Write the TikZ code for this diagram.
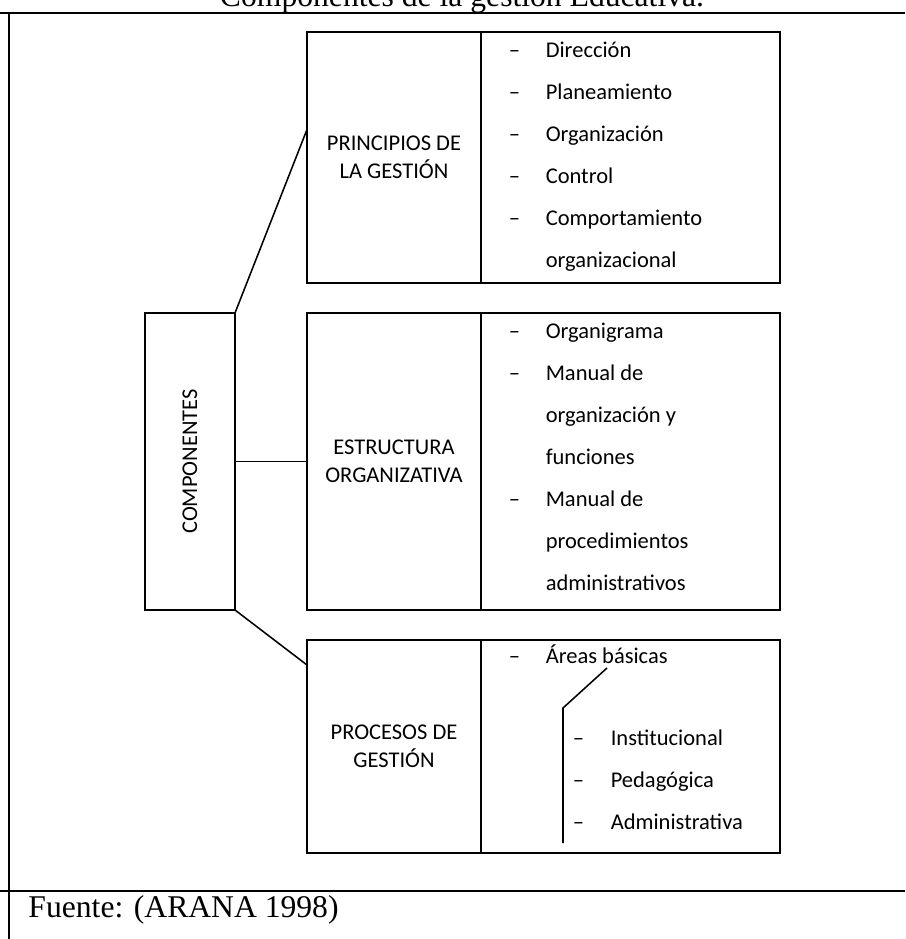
\documentclass[tikz,border=0pt]{standalone}
\usepackage{fontspec}
\setmainfont{Liberation Serif}
\newfontfamily\calibri{Carlito}
\usetikzlibrary{positioning, calc}

\newcommand\itm{\makebox[0.925cm][l]{–}}
\newcommand\cont{\hspace*{0.925cm}}
\newcommand\subitm{\makebox[0.95cm][l]{–}}

\begin{document}
\begin{tikzpicture}[
  line width=1.1pt,
  cell/.style={draw, minimum width=4.35cm, inner sep=0pt, outer sep=0pt,
               font=\calibri\fontsize{16}{20}\selectfont, align=center},
  listcell/.style={draw, minimum width=7.475cm, inner sep=0pt, outer sep=0pt},
  items/.style={anchor=north west, inner sep=0pt, align=left,
                font=\calibri\fontsize{16}{29.85}\selectfont},
  frame/.style={line width=0.9pt},
]
  \useasboundingbox (0,0) rectangle (22.625,-23.475);

  % caption, cut at the top edge
  \node[anchor=base, font=\fontsize{22.5}{26}\selectfont] (title) at (11.55,-0.175)
    {Componentes de la gestión Educativa.};

  \node[cell, minimum height=6.275cm] (princ) at (9.85,-3.9375) {PRINCIPIOS DE\\LA GESTIÓN};
  \node[listcell, minimum height=6.275cm, right=0pt of princ] (princlist) {};
  \node[cell, minimum height=7.425cm, below=0.75cm of princ] (estr) {ESTRUCTURA\\ORGANIZATIVA};
  \node[listcell, minimum height=7.425cm, right=0pt of estr] (estrlist) {};
  \node[cell, minimum height=5.325cm, below=0.75cm of estr] (proc) {PROCESOS DE\\GESTIÓN};
  \node[listcell, minimum height=5.325cm, right=0pt of proc] (proclist) {};

  \node[cell, minimum width=2.25cm, minimum height=7.425cm, left=1.8cm of estr] (comp)
    {\rotatebox{90}{COMPONENTES}};

  \node[items] (princitems) at ([xshift=0.675cm, yshift=0.11cm]princlist.north west)
    {\strut\itm Dirección\\ \itm Planeamiento\\ \itm Organización\\ \itm Control\\
     \itm Comportamiento\\ \cont organizacional};
  \node[items] (estritems) at ([xshift=0.675cm, yshift=0.11cm]estrlist.north west)
    {\strut\itm Organigrama\\ \itm Manual de\\ \cont organización y\\ \cont funciones\\
     \itm Manual de\\ \cont procedimientos\\ \cont administrativos};
  \node[items] (areas) at ([xshift=0.675cm, yshift=0.16cm]proclist.north west)
    {\strut\itm Áreas básicas};
  \node[items] (areaitems) at (14.3,-17.89)
    {\strut\subitm Institucional\\ \subitm Pedagógica\\ \subitm Administrativa};

  \coordinate (kinktop) at (15.175,-16.7);
  \coordinate (kink) at (14.075,-17.7);
  \coordinate (kinkend) at (14.075,-21.075);
  \draw (kinktop) -- (kink) -- (kinkend);

  \draw (comp.north east) -- ([yshift=0.7cm]princ.west);
  \draw (comp.east) -- (estr.west);
  \draw (comp.south east) -- ([yshift=-0.625cm]proc.north west);

  % outer frame and source row
  \draw[frame] (0,-0.325) -- (22.625,-0.325);
  \draw[frame] (0.225,-0.325) -- (0.225,-23.475);
  \draw[frame] (0,-22.275) -- (22.625,-22.275);
  \node[anchor=base west, font=\fontsize{22.5}{26}\selectfont] (fuente) at (0.575,-22.925)
    {Fuente: (ARANA 1998)};
\end{tikzpicture}
\end{document}
